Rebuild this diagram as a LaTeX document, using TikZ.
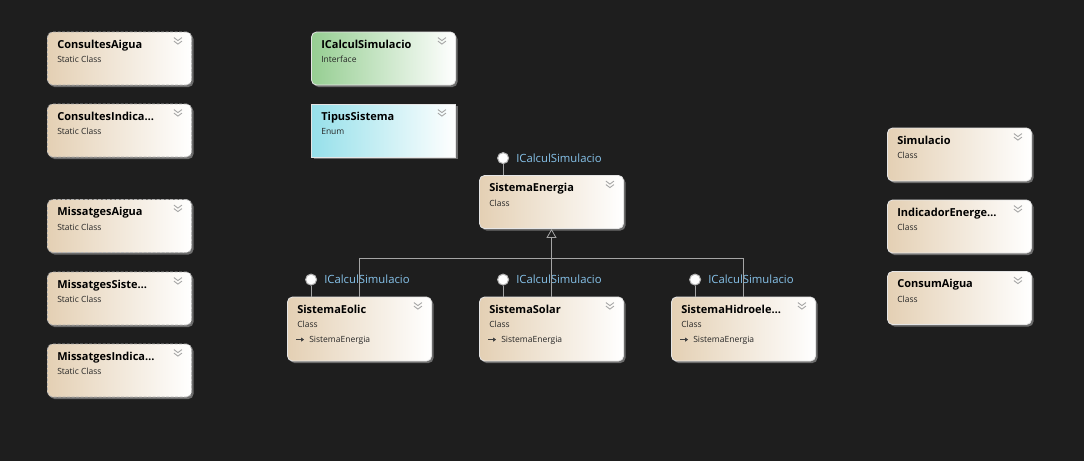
\documentclass[tikz,border=0pt]{standalone}
\usepackage{fontspec}
\setmainfont{Open Sans}
\usetikzlibrary{arrows.meta,shadows}
\definecolor{bgcol}{RGB}{30,30,30}
\definecolor{boxtan}{RGB}{228,208,180}
\definecolor{ifgreen}{RGB}{150,206,146}
\definecolor{enumcyan}{RGB}{150,224,234}
\definecolor{lblblue}{RGB}{135,195,235}
\definecolor{linegray}{RGB}{165,165,165}

\begin{document}
\begin{tikzpicture}[x=1pt, y=-1pt,
  box/.style={draw=white!80!gray, line width=.8pt, rounded corners=5pt, minimum width=144pt,
    minimum height=53pt, inner sep=0pt, left color=boxtan, right color=white,
    drop shadow={shadow xshift=2pt, shadow yshift=-2pt, opacity=.8}},
  clsbox/.style={box},
  subbox/.style={box, minimum height=64pt},
  statbox/.style={box, draw=gray!60, dash pattern=on 3pt off 1.5pt},
  ifbox/.style={box, left color=ifgreen},
  enumbox/.style={box, sharp corners, left color=enumcyan},
  ttl/.style={anchor=base west, inner sep=0pt, text=black, font=\fontsize{11}{13}\selectfont\bfseries},
  knd/.style={anchor=base west, inner sep=0pt, text=black!85, font=\fontsize{8.5}{10}\selectfont},
  chev/.style={draw=gray!70, line width=.9pt},
  lolli/.style={circle, draw=gray!60, fill=white, line width=1pt, minimum size=11pt, inner sep=0pt},
  ilbl/.style={anchor=west, inner sep=0pt, text=lblblue, font=\fontsize{11.3}{13}\selectfont},
  conn/.style={draw=linegray, line width=.8pt}
]
\fill[bgcol] (0,0) rectangle (1084,461);
\useasboundingbox (0,0) rectangle (1084,461);

% type boxes
\foreach \n/\pos/\st/\t/\k in {
  cAigua/{119.5,58.5}/statbox/ConsultesAigua/Static Class,
  cIndica/{119.5,130.5}/statbox/ConsultesIndica\ldots/Static Class,
  mAigua/{119.5,226}/statbox/MissatgesAigua/Static Class,
  mSiste/{119.5,298.5}/statbox/MissatgesSiste\ldots/Static Class,
  mIndica/{119.5,370.5}/statbox/MissatgesIndica\ldots/Static Class,
  iCalcul/{383.5,58.5}/ifbox/ICalculSimulacio/Interface,
  tipus/{383.5,130.5}/enumbox/TipusSistema/Enum,
  energia/{551.5,202}/clsbox/SistemaEnergia/Class,
  eolic/{359.5,329}/subbox/SistemaEolic/Class,
  solar/{551.5,329}/subbox/SistemaSolar/Class,
  hidro/{743.5,329}/subbox/SistemaHidroele\ldots/Class,
  simul/{959.5,154.5}/clsbox/Simulacio/Class,
  indic/{959.5,226.5}/clsbox/IndicadorEnerge\ldots/Class,
  consum/{959.5,298}/clsbox/ConsumAigua/Class}
{
  \node[\st] (\n) at (\pos) {};
  \node[ttl] (\n-t) at ([shift={(10,16.5)}]\n.north west) {\t};
  \node[knd] (\n-k) at ([shift={(10,31)}]\n.north west) {\k};
  \draw[chev] ([shift={(-18,6)}]\n.north east) -- ++(4,3) -- ++(4,-3)
    ([shift={(-18,9.5)}]\n.north east) -- ++(4,3) -- ++(4,-3);
}

% base class line
\foreach \n in {eolic, solar, hidro} {
  \draw[draw=black!75, line width=.7pt, -{Triangle[length=3pt, width=4pt]}]
    ([shift={(9,43)}]\n.north west) -- ++(8,0);
  \node[knd] (\n-b) at ([shift={(22,46)}]\n.north west) {SistemaEnergia};
}

% interface lollipops
\foreach \n in {energia, eolic, solar, hidro} {
  \node[lolli] (\n-c) at ([shift={(24,-17)}]\n.north west) {};
  \node[ilbl] (\n-l) at ([xshift=7pt]\n-c.east) {ICalculSimulacio};
  \draw[conn] (\n-c) -- (\n-c |- \n.north);
}

% inheritance
\draw[conn] (eolic.north) -- ++(0,-38) -| (hidro.north);
\draw[conn, -{Triangle[open, fill=bgcol, length=9pt, width=10pt]}] (solar.north) -- (energia.south);
\end{tikzpicture}
\end{document}
